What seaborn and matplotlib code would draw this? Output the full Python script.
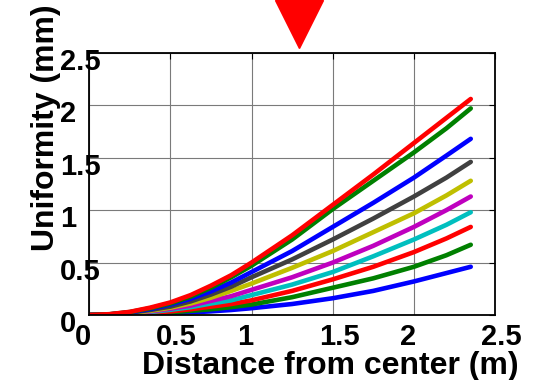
import pandas as pd
import matplotlib
matplotlib.use('Agg')
import matplotlib.pyplot as plt
import matplotlib.transforms as mtransforms
import seaborn as sns

# distance from center (m) and the ten uniformity curves (mm), bottom to top
distance = [0, 0.125, 0.25, 0.375, 0.5, 0.625, 0.75, 0.875, 1.0,
            1.25, 1.5, 1.75, 2.0, 2.2, 2.35]
curve_1 = [0, 0.001, 0.004, 0.009, 0.015, 0.025, 0.035, 0.048, 0.065,
           0.105, 0.16, 0.23, 0.32, 0.40, 0.46]
curve_2 = [0, 0.0015, 0.006, 0.014, 0.025, 0.04, 0.055, 0.075, 0.10,
           0.17, 0.26, 0.35, 0.46, 0.57, 0.67]
curve_3 = [0, 0.002, 0.009, 0.02, 0.035, 0.055, 0.08, 0.105, 0.14,
           0.23, 0.34, 0.46, 0.60, 0.73, 0.84]
curve_4 = [0, 0.003, 0.012, 0.028, 0.05, 0.075, 0.11, 0.14, 0.19,
           0.29, 0.41, 0.56, 0.72, 0.86, 0.98]
curve_5 = [0, 0.004, 0.015, 0.034, 0.06, 0.09, 0.135, 0.18, 0.24,
           0.36, 0.50, 0.66, 0.84, 1.00, 1.13]
curve_6 = [0, 0.004, 0.018, 0.04, 0.07, 0.11, 0.165, 0.23, 0.30,
           0.45, 0.61, 0.79, 0.97, 1.14, 1.28]
curve_7 = [0, 0.005, 0.022, 0.048, 0.08, 0.13, 0.195, 0.27, 0.36,
           0.53, 0.72, 0.92, 1.13, 1.31, 1.46]
curve_8 = [0, 0.006, 0.025, 0.056, 0.10, 0.155, 0.225, 0.31, 0.41,
           0.61, 0.84, 1.07, 1.31, 1.52, 1.68]
curve_9 = [0, 0.007, 0.028, 0.064, 0.11, 0.175, 0.26, 0.36, 0.47,
           0.72, 1.01, 1.28, 1.55, 1.78, 1.97]
curve_10 = [0, 0.008, 0.030, 0.07, 0.12, 0.19, 0.28, 0.38, 0.50,
            0.76, 1.05, 1.34, 1.64, 1.88, 2.06]
curves = [curve_1, curve_2, curve_3, curve_4, curve_5,
          curve_6, curve_7, curve_8, curve_9, curve_10]
# matlab default color order
colors = [(0, 0, 1), (0, 0.5, 0), (1, 0, 0), (0, 0.75, 0.75), (0.75, 0, 0.75),
          (0.75, 0.75, 0), (0.25, 0.25, 0.25), (0, 0, 1), (0, 0.5, 0), (1, 0, 0)]
marker_x = 1.29
ticks = [0, 0.5, 1, 1.5, 2, 2.5]
tick_labels = ['0', '0.5', '1', '1.5', '2', '2.5']

sns.set_style('white')
plt.rcParams['font.family'] = ['Liberation Sans', 'DejaVu Sans']
plt.rcParams['font.weight'] = 'bold'
for k in ['text.color', 'axes.labelcolor', 'xtick.color', 'ytick.color']:
    plt.rcParams[k] = 'black'

df = pd.concat([pd.DataFrame({'distance': distance, 'uniformity': c, 'curve': 'c%d' % (i + 1)})
                for i, c in enumerate(curves)], ignore_index=True)

fig = plt.figure(figsize=(5.37, 3.80), dpi=100)
ax = fig.add_axes([0.166, 0.171, 0.756, 0.690])
sns.lineplot(data=df, x='distance', y='uniformity', hue='curve', palette=colors,
             lw=3.3, legend=False, ax=ax)

# red marker above the plot
trans = mtransforms.blended_transform_factory(ax.transData, ax.transAxes)
ax.plot([marker_x], [1.11], marker='v', ms=34.5, color='red', mec='red',
        transform=trans, clip_on=False)

ax.set_xlim(0, 2.5)
ax.set_ylim(0, 2.5)
ax.grid(True, color='#7a7a7a', lw=0.8)
for s in ax.spines.values():
    s.set_color('black')
    s.set_linewidth(1.3)
ax.set_xticks(ticks)
ax.set_yticks(ticks)
ax.set_xticklabels(tick_labels, ha='left')
ax.set_yticklabels(tick_labels, ha='left')
ax.tick_params(direction='in', length=4, width=0.8, top=True, right=True, labelsize=21)
ax.tick_params(axis='x', pad=6)
ax.tick_params(axis='y', pad=21)
for lab in ax.get_xticklabels():
    lab.set_transform(lab.get_transform() + mtransforms.ScaledTranslation(-0.14, 0, fig.dpi_scale_trans))
for lab in ax.get_yticklabels():
    lab.set_transform(lab.get_transform() + mtransforms.ScaledTranslation(0, -0.06, fig.dpi_scale_trans))

ax.set_xlabel('Distance from center (m)', fontsize=23, fontweight='bold')
ax.set_ylabel('Uniformity (mm)', fontsize=23, fontweight='bold')
ax.xaxis.set_label_coords(0.595, -0.136)
ax.yaxis.set_label_coords(-0.07, 0.714)

fig.savefig('out.png', dpi=100)
